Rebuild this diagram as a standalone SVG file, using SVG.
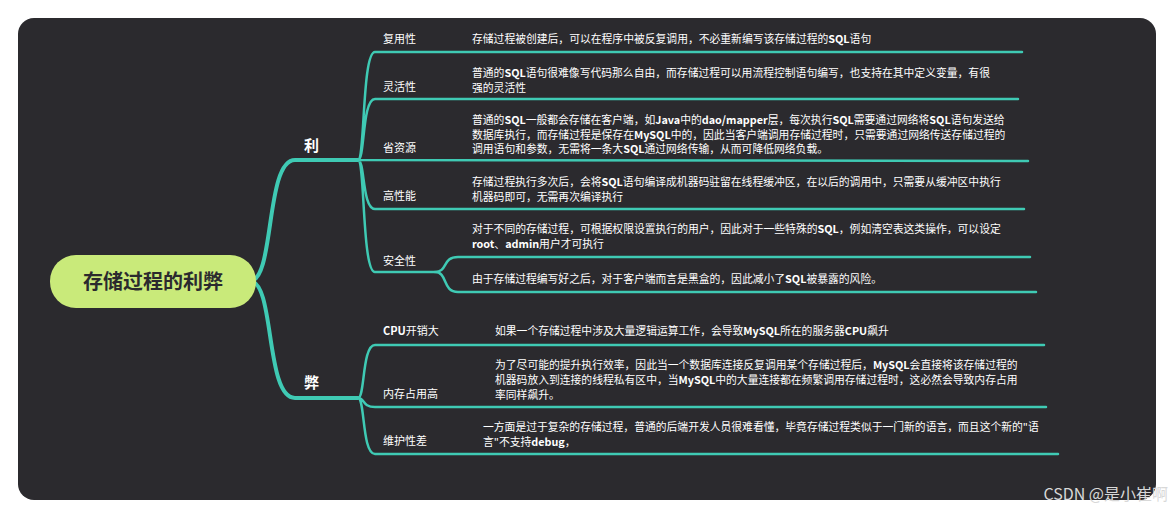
<svg xmlns="http://www.w3.org/2000/svg" width="1174" height="518" viewBox="0 0 1174 518">
<style>
.t{font-family:"Noto Sans CJK SC","Liberation Sans",sans-serif;fill:#ffffff;font-size:10.8px}
.l{font-family:"Noto Sans CJK SC","Liberation Sans",sans-serif;fill:#ffffff;font-size:11px}
.m{font-family:"Noto Sans CJK SC",sans-serif;fill:#ffffff;font-size:15px;font-weight:bold}
.b{fill:none;stroke:#3fcab4;stroke-linecap:round}
</style>
<rect x="0" y="0" width="1174" height="518" fill="#ffffff"/>
<rect x="18" y="18" width="1138" height="482" rx="16" fill="#2b2a2e"/>
<g id="connectors">
<path class="b" stroke-width="4" d="M250 281 C275 281 265 160 295 160 L358 160 M250 281 C275 281 265 398 295 398 L358 398"/>
<path class="b" stroke-width="2.5" d="M358 160 C365 160 362 52 375 52 L1022 52 M358 160 C365 160 362 99 375 99 L1018 99 M358 160 L1028 161 M358 160 C365 160 362 209 375 209 L1024 209 M358 160 C365 160 362 272 375 272 L435 272"/>
<path class="b" stroke-width="2.5" d="M435 272 C448 272 442 257 458 257 L1030 257 M435 272 C448 272 442 292 458 292 L1036 292"/>
<path class="b" stroke-width="2.5" d="M358 398 C365 398 362 345 375 345 L1044 345 M358 398 C365 398 362 407 375 407 L1046 407 M358 398 C365 398 362 454 375 454 L1058 454"/>
</g>
<g id="root"><rect x="50" y="255" width="206" height="53" rx="26" fill="#c9ea7a"/><text x="153" y="289" text-anchor="middle" font-family="Noto Sans CJK SC,sans-serif" font-size="20" font-weight="bold" fill="#2b2a2e">存储过程的利弊</text></g>
<g id="li"><text class="m" x="304" y="151">利</text></g>
<g id="bi"><text class="m" x="304" y="388">弊</text></g>
<g id="n1"><text class="l" x="383" y="43">复用性</text><text class="t" x="472" y="43">存储过程被创建后，可以在程序中被反复调用，不必重新编写该存储过程的<tspan font-weight="bold">SQL</tspan>语句</text></g>
<g id="n2"><text class="l" x="383" y="91">灵活性</text><text class="t" x="472" y="77">普通的<tspan font-weight="bold">SQL</tspan>语句很难像写代码那么自由，而存储过程可以用流程控制语句编写，也支持在其中定义变量，有很</text><text class="t" x="472" y="92">强的灵活性</text></g>
<g id="n3"><text class="l" x="383" y="152">省资源</text><text class="t" x="472" y="124">普通的<tspan font-weight="bold">SQL</tspan>一般都会存储在客户端，如<tspan font-weight="bold">Java</tspan>中的<tspan font-weight="bold">dao/mapper</tspan>层，每次执行<tspan font-weight="bold">SQL</tspan>需要通过网络将<tspan font-weight="bold">SQL</tspan>语句发送给</text><text class="t" x="472" y="139">数据库执行，而存储过程是保存在<tspan font-weight="bold">MySQL</tspan>中的，因此当客户端调用存储过程时，只需要通过网络传送存储过程的</text><text class="t" x="472" y="153">调用语句和参数，无需将一条大<tspan font-weight="bold">SQL</tspan>通过网络传输，从而可降低网络负载。</text></g>
<g id="n4"><text class="l" x="383" y="200">高性能</text><text class="t" x="472" y="186">存储过程执行多次后，会将<tspan font-weight="bold">SQL</tspan>语句编译成机器码驻留在线程缓冲区，在以后的调用中，只需要从缓冲区中执行</text><text class="t" x="472" y="201">机器码即可，无需再次编译执行</text></g>
<g id="n5"><text class="l" x="383" y="265">安全性</text><text class="t" x="472" y="233">对于不同的存储过程，可根据权限设置执行的用户，因此对于一些特殊的<tspan font-weight="bold">SQL</tspan>，例如清空表这类操作，可以设定</text><text class="t" x="472" y="248"><tspan font-weight="bold">root</tspan>、<tspan font-weight="bold">admin</tspan>用户才可执行</text><text class="t" x="472" y="283">由于存储过程编写好之后，对于客户端而言是黑盒的，因此减小了<tspan font-weight="bold">SQL</tspan>被暴露的风险。</text></g>
<g id="n6"><text class="l" x="383" y="335"><tspan font-weight="bold">CPU</tspan>开销大</text><text class="t" x="495" y="335">如果一个存储过程中涉及大量逻辑运算工作，会导致<tspan font-weight="bold">MySQL</tspan>所在的服务器<tspan font-weight="bold">CPU</tspan>飙升</text></g>
<g id="n7"><text class="l" x="383" y="398">内存占用高</text><text class="t" x="495" y="369">为了尽可能的提升执行效率，因此当一个数据库连接反复调用某个存储过程后，<tspan font-weight="bold">MySQL</tspan>会直接将该存储过程的</text><text class="t" x="495" y="384">机器码放入到连接的线程私有区中，当<tspan font-weight="bold">MySQL</tspan>中的大量连接都在频繁调用存储过程时，这必然会导致内存占用</text><text class="t" x="495" y="399">率同样飙升。</text></g>
<g id="n8"><text class="l" x="383" y="445">维护性差</text><text class="t" x="483" y="431">一方面是过于复杂的存储过程，普通的后端开发人员很难看懂，毕竟存储过程类似于一门新的语言，而且这个新的"语</text><text class="t" x="483" y="446">言"不支持<tspan font-weight="bold">debug</tspan>，</text></g>
<text x="1168" y="500" text-anchor="end" font-family="Noto Sans CJK SC,sans-serif" font-size="16" fill="#d8d8d8">CSDN @是小崔啊</text>
</svg>
